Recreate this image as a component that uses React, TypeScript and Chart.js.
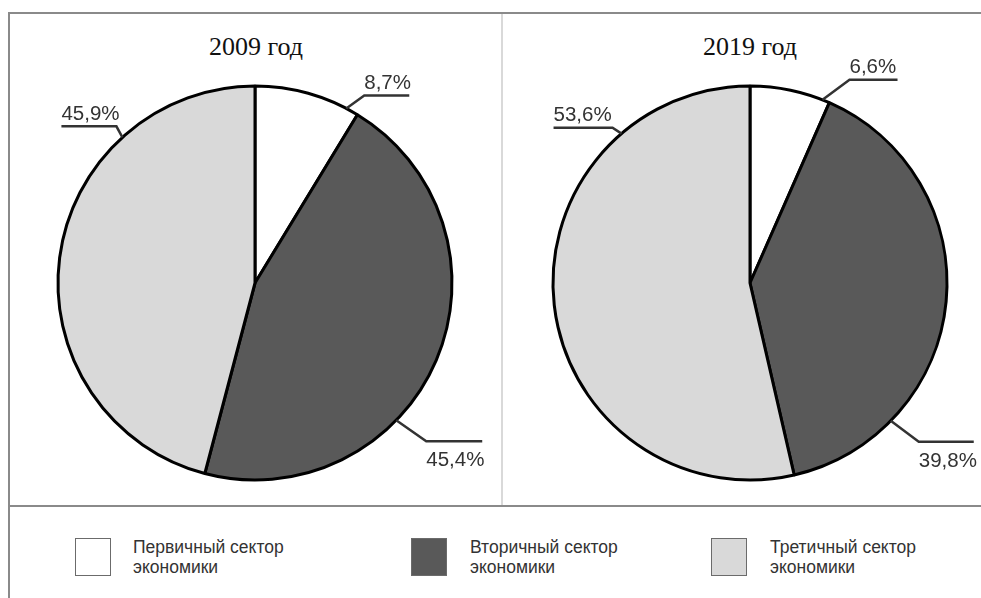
import React, { useEffect, useRef } from "react";
import { Chart, registerables } from "chart.js";

Chart.register(...registerables);

const categories = ["Первичный сектор экономики", "Вторичный сектор экономики", "Третичный сектор экономики"];
const legendLines = [
  ["Первичный сектор", "экономики"],
  ["Вторичный сектор", "экономики"],
  ["Третичный сектор", "экономики"],
];
const years = ["2009 год", "2019 год"];
const values2009 = [8.7, 45.4, 45.9];
const values2019 = [6.6, 39.8, 53.6];

const sliceColors = ["#ffffff", "#595959", "#d9d9d9"];

// leader-line layout per slice: angle (deg from top, clockwise) where the line touches the pie,
// elbow offset, horizontal run length (signed), text side
type LabelLayout = { angle: number; dx: number; dy: number; run: number; below: boolean };
const layout2009: LabelLayout[] = [
  { angle: 27.6, dx: 18, dy: -13, run: 45, below: false },
  { angle: 134.2, dx: 30, dy: 21, run: 56, below: true },
  { angle: -42.3, dx: -6, dy: -11, run: -55, below: false },
];
const layout2019: LabelLayout[] = [
  { angle: 21.6, dx: 27, dy: -20, run: 48, below: false },
  { angle: 134.4, dx: 28, dy: 21, run: 55, below: true },
  { angle: -40.7, dx: -9, dy: -6, run: -59, below: false },
];

const fmt = (v: number) => v.toFixed(1).replace(".", ",") + "%";

function makeLabelPlugin(layouts: LabelLayout[]) {
  return {
    id: "leaderLabels",
    afterDraw(chart: any) {
      const ctx = chart.ctx as CanvasRenderingContext2D;
      const meta = chart.getDatasetMeta(0);
      const data = chart.data.datasets[0].data as number[];
      meta.data.forEach((arc: any, i: number) => {
        const L = layouts[i];
        if (!L) return;
        const { x, y, outerRadius } = arc.getProps(["x", "y", "outerRadius"], true);
        const a = ((L.angle - 90) * Math.PI) / 180;
        const sx = x + outerRadius * Math.cos(a);
        const sy = y + outerRadius * Math.sin(a);
        const ex = sx + L.dx;
        const ey = sy + L.dy;
        const hx = ex + L.run;
        ctx.save();
        ctx.strokeStyle = "#333333";
        ctx.lineWidth = 2.5;
        ctx.lineJoin = "miter";
        ctx.beginPath();
        ctx.moveTo(sx, sy);
        ctx.lineTo(ex, ey);
        ctx.lineTo(hx, ey);
        ctx.stroke();
        ctx.fillStyle = "#333333";
        ctx.font = "20.5px 'Liberation Sans', Arial, sans-serif";
        ctx.textAlign = "left";
        const tx = Math.min(ex, hx);
        if (L.below) {
          ctx.textBaseline = "top";
          ctx.fillText(fmt(data[i]), tx, ey + 9);
        } else {
          ctx.textBaseline = "bottom";
          ctx.fillText(fmt(data[i]), tx, ey - 2);
        }
        ctx.restore();
      });
    },
  };
}

function PieChart(props: {
  values: number[];
  layouts: LabelLayout[];
  style: React.CSSProperties;
  padding: { top: number; bottom: number; left: number; right: number };
}) {
  const ref = useRef<HTMLCanvasElement | null>(null);
  useEffect(() => {
    if (!ref.current) return;
    const chart = new Chart(ref.current, {
      type: "pie",
      data: {
        labels: categories,
        datasets: [
          {
            data: props.values,
            backgroundColor: sliceColors,
            borderColor: "#000000",
            borderWidth: 3,
          },
        ],
      },
      options: {
        animation: false,
        responsive: false,
        radius: 197,
        layout: { padding: props.padding },
        plugins: {
          legend: { display: false },
          tooltip: { enabled: false },
          title: { display: false },
        },
      } as any,
      plugins: [makeLabelPlugin(props.layouts)],
    });
    return () => chart.destroy();
  }, []);
  const w = props.style.width as number;
  const h = props.style.height as number;
  return <canvas ref={ref} width={w} height={h} style={{ position: "absolute", ...props.style }} />;
}

export default function App() {
  const titleStyle: React.CSSProperties = {
    position: "absolute",
    top: 30,
    width: 200,
    textAlign: "center",
    fontFamily: "'Liberation Serif', 'Times New Roman', serif",
    fontSize: 26,
    color: "#111",
    lineHeight: "34px",
  };
  const legendText: React.CSSProperties = {
    position: "absolute",
    top: 537,
    fontFamily: "'Liberation Sans', Arial, sans-serif",
    fontSize: 17.5,
    lineHeight: "20px",
    color: "#333",
  };
  const box = (left: number, color: string): React.CSSProperties => ({
    position: "absolute",
    left,
    top: 538,
    width: 34,
    height: 36,
    background: color,
    border: "1.5px solid #6b6b6b",
  });
  const legendX = [
    { box: 75, text: 133 },
    { box: 411, text: 470 },
    { box: 711, text: 770 },
  ];
  return (
    <div style={{ position: "absolute", left: 0, top: 0, width: 981, height: 598, overflow: "hidden", background: "#fff" }}>
      <div style={{ position: "absolute", left: 8, top: 12, width: 973, height: 2, background: "#8a8a8a" }} />
      <div style={{ position: "absolute", left: 8, top: 12, width: 2, height: 586, background: "#8a8a8a" }} />
      <div style={{ position: "absolute", left: 8, top: 505, width: 973, height: 2, background: "#8a8a8a" }} />
      <div style={{ position: "absolute", left: 501, top: 14, width: 2, height: 491, background: "#d9d9d9" }} />
      <div style={{ ...titleStyle, left: 156 }}>{years[0]}</div>
      <div style={{ ...titleStyle, left: 650 }}>{years[1]}</div>
      <PieChart
        values={values2009}
        layouts={layout2009}
        style={{ left: 10, top: 14, width: 491, height: 490 }}
        padding={{ top: 48, bottom: 0, left: 0, right: 1 }}
      />
      <PieChart
        values={values2019}
        layouts={layout2019}
        style={{ left: 503, top: 14, width: 478, height: 490 }}
        padding={{ top: 48, bottom: 0, left: 16, right: 0 }}
      />
      {legendX.map((p, i) => (
        <React.Fragment key={i}>
          <div style={box(p.box, sliceColors[i])} />
          <div style={{ ...legendText, left: p.text }}>
            {legendLines[i][0]}
            <br />
            {legendLines[i][1]}
          </div>
        </React.Fragment>
      ))}
    </div>
  );
}
